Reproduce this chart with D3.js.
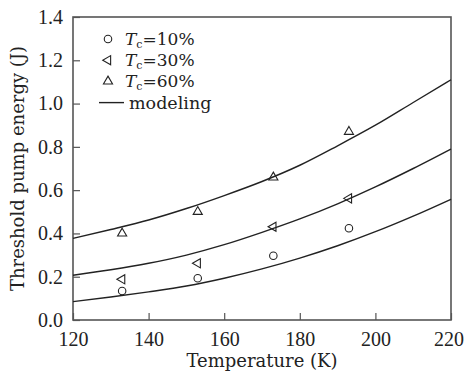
<!DOCTYPE html>
<html>
<head>
<meta charset="utf-8">
<script src="https://cdn.jsdelivr.net/npm/d3@7"></script>
<style>
  body { margin: 0; background: #fff; }
  text { font-family: "DejaVu Serif", serif; fill: #222; }
</style>
</head>
<body>
<div id="chart"></div>
<script>
// modeling curves
const modelT = [120, 130, 140, 150, 160, 170, 180, 190, 200, 210, 220];
const model10 = [0.085, 0.106, 0.13, 0.157, 0.193, 0.236, 0.286, 0.343, 0.408, 0.48, 0.558];
const model30 = [0.207, 0.232, 0.262, 0.3, 0.348, 0.405, 0.467, 0.537, 0.615, 0.7, 0.79];
const model60 = [0.377, 0.418, 0.462, 0.515, 0.575, 0.64, 0.715, 0.805, 0.9, 1.005, 1.11];

// measured points
const measT = [133, 153, 173, 193];
const meas10 = [0.134, 0.193, 0.297, 0.424];
const meas30 = [0.188, 0.262, 0.431, 0.562];
const meas60 = [0.4, 0.5, 0.659, 0.87];

const xTicks = [120, 140, 160, 180, 200, 220];
const yTicks = [0, 0.2, 0.4, 0.6, 0.8, 1.0, 1.2, 1.4];
const legendTc = ["10%", "30%", "60%"];

const W = 464, H = 374;
const margin = { top: 17, right: 13, bottom: 54, left: 73 };
const width = W - margin.left - margin.right;
const height = H - margin.top - margin.bottom;

const svg = d3.select("#chart").append("svg")
  .attr("width", W).attr("height", H)
  .append("g")
  .attr("transform", `translate(${margin.left},${margin.top})`);

const x = d3.scaleLinear().domain([120, 220]).range([0, width]);
const y = d3.scaleLinear().domain([0, 1.4]).range([height, 0]);

const frameColor = "#555";
const fontSize = 18;
const tickFont = "Liberation Serif";
const tickFontSize = 20;

// frame
svg.append("rect")
  .attr("width", width).attr("height", height)
  .attr("fill", "none").attr("stroke", frameColor).attr("stroke-width", 1.6);

// x axis (ticks inside)
const xAxis = svg.append("g")
  .attr("transform", `translate(0,${height})`)
  .call(d3.axisBottom(x).tickValues(xTicks).tickSizeInner(-7).tickSizeOuter(0).tickPadding(12).tickFormat(d3.format("d")));
xAxis.select(".domain").remove();
xAxis.selectAll("line").attr("stroke", frameColor).attr("stroke-width", 1.2);
xAxis.selectAll("text").style("font-family", tickFont).style("font-size", tickFontSize + "px").attr("fill", "#222");
// last label sits right at the page edge
xAxis.selectAll("text").filter(d => d === 220).attr("dx", -2.5);

// y axis (ticks inside)
const yAxis = svg.append("g")
  .call(d3.axisLeft(y).tickValues(yTicks).tickSizeInner(-7).tickSizeOuter(0).tickPadding(10).tickFormat(d3.format(".1f")));
yAxis.select(".domain").remove();
yAxis.selectAll("line").attr("stroke", frameColor).attr("stroke-width", 1.2);
yAxis.selectAll("text").style("font-family", tickFont).style("font-size", tickFontSize + "px").attr("fill", "#222");

// modeling curves
const line = d3.line()
  .curve(d3.curveMonotoneX)
  .x((d, i) => x(modelT[i]))
  .y(d => y(d));

[model10, model30, model60].forEach(series => {
  svg.append("path")
    .datum(series)
    .attr("fill", "none")
    .attr("stroke", "#222")
    .attr("stroke-width", 1.4)
    .attr("d", line);
});

// markers
const markerStyle = sel => sel.attr("fill", "none").attr("stroke", "#222").attr("stroke-width", 1.1);
const circleSym = d3.symbol().type(d3.symbolCircle).size(44);
const triSym = d3.symbol().type(d3.symbolTriangle).size(36);

svg.selectAll(".m10").data(meas10).enter().append("path")
  .attr("d", circleSym)
  .attr("transform", (d, i) => `translate(${x(measT[i])},${y(d)})`)
  .call(markerStyle);

svg.selectAll(".m30").data(meas30).enter().append("path")
  .attr("d", triSym)
  .attr("transform", (d, i) => `translate(${x(measT[i])},${y(d)}) rotate(-90)`)
  .call(markerStyle);

svg.selectAll(".m60").data(meas60).enter().append("path")
  .attr("d", triSym)
  .attr("transform", (d, i) => `translate(${x(measT[i])},${y(d)})`)
  .call(markerStyle);

// legend
const legendFont = 17;
const legend = svg.append("g").attr("transform", "translate(35,22)");
const legendSyms = [
  { sym: circleSym, rot: 0 },
  { sym: triSym, rot: -90 },
  { sym: triSym, rot: 0 }
];
legendTc.forEach((lab, i) => {
  const row = legend.append("g").attr("transform", `translate(0,${i * 21.2})`);
  row.append("path")
    .attr("d", legendSyms[i].sym)
    .attr("transform", `rotate(${legendSyms[i].rot})`)
    .call(markerStyle);
  const t = row.append("text")
    .attr("x", 17).attr("y", 6)
    .style("font-size", legendFont + "px");
  t.append("tspan").style("font-style", "italic").text("T");
  t.append("tspan").attr("dy", 3).style("font-size", "11px").text("c");
  t.append("tspan").attr("dy", -3).text("=" + lab);
});
const modelRow = legend.append("g").attr("transform", `translate(0,${3 * 21.2})`);
modelRow.append("line")
  .attr("x1", -9).attr("x2", 16).attr("y1", 0).attr("y2", 0)
  .attr("stroke", "#222").attr("stroke-width", 1.4);
modelRow.append("text")
  .attr("x", 21).attr("y", 6)
  .style("font-size", (legendFont + 0.5) + "px")
  .text("modeling");

// axis titles
svg.append("text")
  .attr("x", width / 2).attr("y", height + 47)
  .style("text-anchor", "middle")
  .style("font-size", fontSize + "px")
  .text("Temperature (K)");

svg.append("text")
  .attr("transform", "rotate(-90)")
  .attr("x", -height / 2).attr("y", -49)
  .style("text-anchor", "middle")
  .style("font-size", fontSize + "px")
  .text("Threshold pump energy (J)");
</script>
</body>
</html>
